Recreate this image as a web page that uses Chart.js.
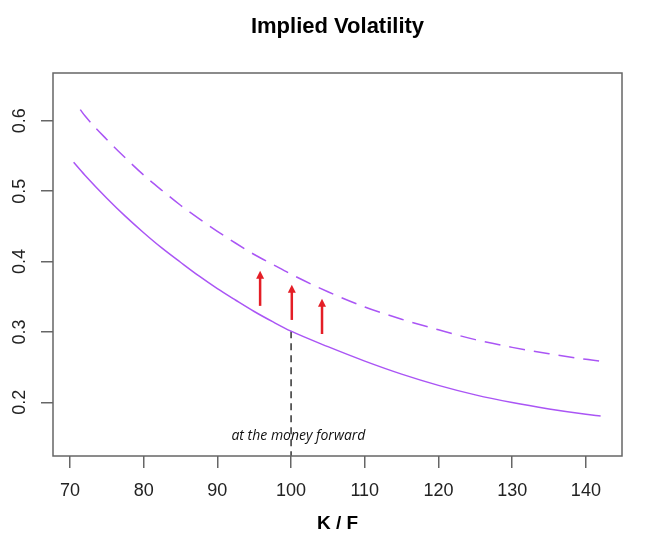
<!DOCTYPE html>
<html lang="en">
<head>
<meta charset="UTF-8">
<title>Implied Volatility</title>
<style>
  html, body { margin: 0; padding: 0; background: #fff; }
  canvas { display: block; }
</style>
</head>
<body>
<canvas id="chartVol" width="648" height="541"></canvas>

<script src="https://cdn.jsdelivr.net/npm/chart.js"></script>
<script>
// values
const strikeLow = [70.5, 72, 75, 77.5, 80, 82.5, 85, 87.5, 90, 92.5, 95, 97.5, 100, 105, 110, 115, 120, 125, 130, 135, 140, 142]
const volLow = [0.541, 0.523, 0.490, 0.4645, 0.441, 0.419, 0.399, 0.3795, 0.3615, 0.345, 0.329, 0.3145, 0.301, 0.279, 0.2585, 0.240, 0.224, 0.2105, 0.1995, 0.1905, 0.183, 0.1805]

const strikeHigh = [71.4, 72, 75, 77.5, 80, 82.5, 85, 87.5, 90, 92.5, 95, 97.5, 100, 105, 110, 115, 120, 125, 130, 135, 140, 143]
const volHigh = [0.616, 0.6075, 0.5735, 0.5475, 0.523, 0.501, 0.480, 0.461, 0.443, 0.426, 0.410, 0.396, 0.382, 0.357, 0.3355, 0.318, 0.303, 0.289, 0.278, 0.269, 0.261, 0.257]

// red arrows (shift of the smile)
const arrowX = [95.8, 100.1, 104.2]
const arrowBase = [0.337, 0.317, 0.297]
const arrowTip = [0.387, 0.367, 0.347]

// at the money marker
const atmStrike = 100
const atmVol = 0.301
const atmLabel = 'at the money forward'
const atmLabelX = 101
const atmLabelY = 0.146

const xTicks = [70, 80, 90, 100, 110, 120, 130, 140]
const yTicks = [0.2, 0.3, 0.4, 0.5, 0.6]
const xRange = [67.7, 144.9]
const yRange = [0.1236, 0.668]

const purple = '#aa55f5'
const axisGrey = '#666666'
const fontFamily = '"Liberation Sans", Arial, sans-serif'

function toPoints(xs, ys) {
    return xs.map((x, i) => ({ x: x, y: ys[i] }))
}

// box around the plot, red arrows and the atm label
const extras = {
    id: 'extras',
    afterDatasetsDraw(chart) {
        const { ctx, chartArea, scales } = chart
        ctx.save()

        ctx.strokeStyle = '#e41e26'
        ctx.fillStyle = '#e41e26'
        ctx.lineWidth = 2.5
        arrowX.forEach((ax, i) => {
            const px = scales.x.getPixelForValue(ax)
            const pb = scales.y.getPixelForValue(arrowBase[i])
            const pt = scales.y.getPixelForValue(arrowTip[i])
            ctx.beginPath()
            ctx.moveTo(px, pb)
            ctx.lineTo(px, pt + 6)
            ctx.stroke()
            ctx.beginPath()
            ctx.moveTo(px, pt)
            ctx.lineTo(px - 4, pt + 8)
            ctx.lineTo(px + 4, pt + 8)
            ctx.closePath()
            ctx.fill()
        })

        ctx.fillStyle = '#111'
        ctx.font = 'italic 14px "Open Sans", sans-serif'
        ctx.textAlign = 'center'
        ctx.textBaseline = 'alphabetic'
        ctx.fillText(atmLabel, scales.x.getPixelForValue(atmLabelX), scales.y.getPixelForValue(atmLabelY))

        ctx.strokeStyle = axisGrey
        ctx.lineWidth = 1.5
        ctx.strokeRect(chartArea.left, chartArea.top, chartArea.right - chartArea.left, chartArea.bottom - chartArea.top)
        ctx.restore()
    }
}

const ctx = document.getElementById('chartVol')

new Chart(ctx, {
    type: 'scatter',
    data: {
        datasets: [
            {
                data: toPoints(strikeLow, volLow),
                showLine: true,
                borderColor: purple,
                borderWidth: 1.5,
                pointRadius: 0,
                cubicInterpolationMode: 'monotone'
            },
            {
                data: toPoints(strikeHigh, volHigh),
                showLine: true,
                borderColor: purple,
                borderWidth: 1.5,
                borderDash: [16, 9],
                pointRadius: 0,
                cubicInterpolationMode: 'monotone'
            },
            {
                data: [{ x: atmStrike, y: atmVol }, { x: atmStrike, y: yRange[0] }],
                showLine: true,
                borderColor: '#000',
                borderWidth: 1.2,
                borderDash: [7, 5],
                pointRadius: 0
            }
        ]
    },
    options: {
        responsive: false,
        animation: false,
        layout: { padding: { left: 0, right: 26, top: 0, bottom: 0 } },
        plugins: {
            legend: { display: false },
            tooltip: { enabled: false }
        },
        scales: {
            x: {
                type: 'linear',
                min: xRange[0],
                max: xRange[1],
                afterBuildTicks: scale => { scale.ticks = xTicks.map(v => ({ value: v })) },
                afterFit: scale => { scale.height = 85 },
                border: { display: false },
                grid: { drawOnChartArea: false, drawTicks: true, tickLength: 12, color: axisGrey, lineWidth: 1.5 },
                ticks: {
                    autoSkip: false,
                    maxRotation: 0,
                    padding: 12,
                    color: '#222',
                    font: { family: fontFamily, size: 18 }
                },
                title: {
                    display: true,
                    text: 'K / F',
                    color: '#000',
                    font: { family: fontFamily, size: 19, weight: 'bold' },
                    padding: { top: 0, bottom: 6 }
                }
            },
            // top axis only carries the main title, centred over the plot box
            xTop: {
                type: 'linear',
                position: 'top',
                display: true,
                min: xRange[0],
                max: xRange[1],
                afterFit: scale => { scale.height = 73 },
                border: { display: false },
                grid: { display: false },
                ticks: { display: false },
                title: {
                    display: true,
                    text: 'Implied Volatility',
                    color: '#000',
                    font: { family: fontFamily, size: 22, weight: 'bold' },
                    padding: { top: 14, bottom: 0 }
                }
            },
            y: {
                type: 'linear',
                min: yRange[0],
                max: yRange[1],
                afterBuildTicks: scale => { scale.ticks = yTicks.map(v => ({ value: v })) },
                afterFit: scale => { scale.width = 53 },
                border: { display: false },
                grid: { drawOnChartArea: false, drawTicks: true, tickLength: 12, color: axisGrey, lineWidth: 1.5 },
                ticks: {
                    autoSkip: false,
                    minRotation: 90,
                    maxRotation: 90,
                    crossAlign: 'center',
                    padding: 8,
                    color: '#222',
                    font: { family: fontFamily, size: 18 },
                    callback: v => v.toFixed(1)
                }
            }
        }
    },
    plugins: [extras]
})
</script>
</body>
</html>
